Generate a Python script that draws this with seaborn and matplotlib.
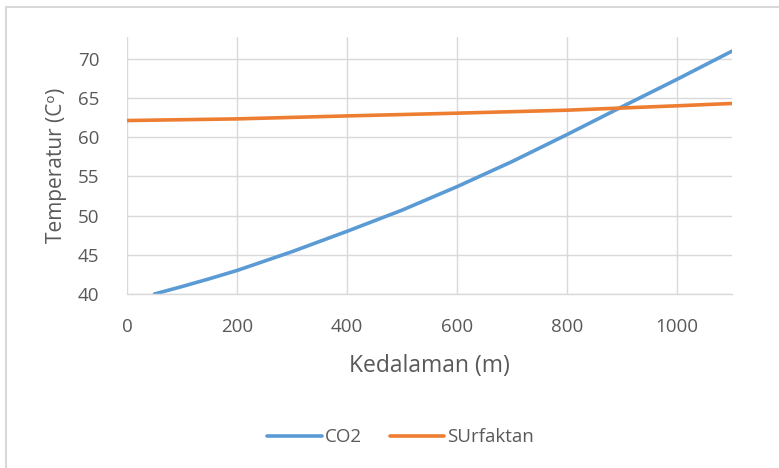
import matplotlib
matplotlib.use("Agg")
import matplotlib.pyplot as plt
import seaborn as sns
import pandas as pd
from matplotlib.lines import Line2D

# Data
depth_co2 = [50, 100, 150, 200, 300, 400, 500, 600, 700, 800, 900, 1000, 1100]
temp_co2 = [40.0, 40.95, 41.95, 43.0, 45.4, 48.0, 50.7, 53.7, 56.9, 60.35, 63.9, 67.4, 71.0]
depth_surf = [0, 200, 400, 600, 800, 1000, 1100]
temp_surf = [62.14, 62.35, 62.73, 63.08, 63.46, 64.02, 64.32]
series_names = ["CO2", "SUrfaktan"]
x_ticks = [0, 200, 400, 600, 800, 1000]
y_ticks = [40, 45, 50, 55, 60, 65, 70]

df = pd.concat([
    pd.DataFrame({"x": depth_co2, "y": temp_co2, "s": series_names[0]}),
    pd.DataFrame({"x": depth_surf, "y": temp_surf, "s": series_names[1]}),
])

sns.set_theme(style="white")
plt.rcParams['font.family'] = ['Open Sans', 'DejaVu Sans']
txt = "#595959"
grid = "#D9D9D9"
colors = ["#5B9BD5", "#ED7D31"]

fig = plt.figure(figsize=(7.79, 4.68), dpi=100)
ax = fig.add_axes([0.163, 0.3718, 0.7767, 0.5491])

sns.lineplot(data=df, x="x", y="y", hue="s", palette=colors, ax=ax,
             linewidth=2.6, legend=False, sort=True)

ax.set_xlim(0, 1100)
ax.set_ylim(40, 72.8)
ax.set_xticks(x_ticks)
ax.set_yticks(y_ticks)
ax.grid(True, color=grid, linewidth=1)
ax.set_axisbelow(True)
for s in ["top", "right"]:
    ax.spines[s].set_visible(False)
ax.spines["left"].set_visible(False)
ax.spines["bottom"].set_color(grid)
ax.spines["bottom"].set_linewidth(1)
ax.tick_params(axis="both", length=0, labelsize=13.5, colors=txt)
ax.tick_params(axis="x", pad=17)
ax.tick_params(axis="y", pad=20)

ax.set_xlabel("Kedalaman (m)", fontsize=16.5, color=txt, labelpad=13)
ax.set_ylabel("Temperatur (Cᵒ)", fontsize=15, color=txt)
ax.yaxis.set_label_coords(-0.099, 0.5)

handles = [Line2D([0], [0], color=c, lw=2.6) for c in colors]
fig.legend(handles, series_names, loc="center", bbox_to_anchor=(0.514, 0.066),
           ncol=2, frameon=False, fontsize=13.5, labelcolor=txt,
           handlelength=2.9, handletextpad=0.15, columnspacing=1.5)

# Chart border (left and top visible)
fig.add_artist(Line2D([0.0077, 0.0077], [0, 0.986], transform=fig.transFigure,
                      color=grid, lw=1.5))
fig.add_artist(Line2D([0.0077, 1.0], [0.986, 0.986], transform=fig.transFigure,
                      color=grid, lw=1.5))

fig.savefig("out.png", dpi=100)
